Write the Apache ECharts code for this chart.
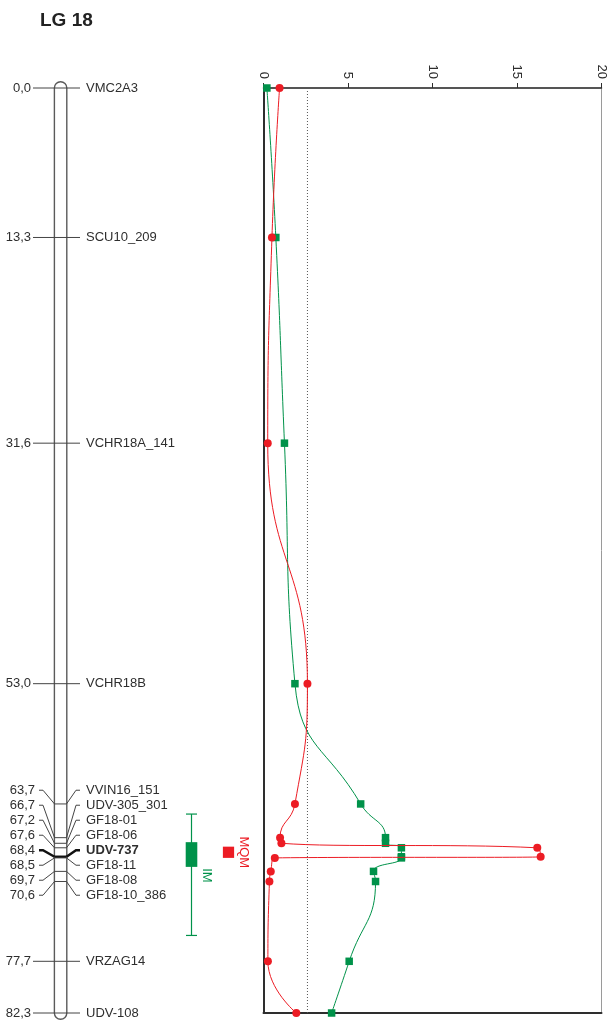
<!DOCTYPE html>
<html><head><meta charset="utf-8">
<script src="https://cdn.jsdelivr.net/npm/echarts@6/dist/echarts.min.js"></script>
<style>html,body{margin:0;padding:0;background:#fff}#chart{width:608px;height:1022px}</style>
</head><body><div id="chart"></div>
<script>
// ---------------- data ----------------
const chartTitle = 'LG 18';
const markerNames = ['VMC2A3','SCU10_209','VCHR18A_141','VCHR18B','VVIN16_151','UDV-305_301','GF18-01','GF18-06','UDV-737','GF18-11','GF18-08','GF18-10_386','VRZAG14','UDV-108'];
const markerPositions = [0.0, 13.3, 31.6, 53.0, 63.7, 66.7, 67.2, 67.6, 68.4, 68.5, 69.7, 70.6, 77.7, 82.3];
const positionLabels = ['0,0','13,3','31,6','53,0','63,7','66,7','67,2','67,6','68,4','68,5','69,7','70,6','77,7','82,3'];
const boldMarkers = ['UDV-737'];
const lodMQM = [0.95, 0.5, 0.25, 2.6, 1.86, 0.98, 1.06, 16.2, 16.4, 0.67, 0.43, 0.35, 0.26, 1.94];
const lodIM  = [0.2, 0.73, 1.24, 1.86, 5.75, 7.22, 7.22, 8.16, 8.16, 8.16, 6.51, 6.63, 5.07, 4.03];
const lodThreshold = [2.6];
const lodTicks = [0, 5, 10, 15, 20];
const qtlNames = ['IM', 'MQM'];
const qtlIMRange = [64.6, 75.4];
const qtlIMCore = [67.1, 69.3];
const qtlMQMRange = [67.5, 68.5];

// ---------------- style ----------------
const RED = '#ec1c24', GREEN = '#00924a', INK = '#2e2e2e', LINE = '#444444';
const FONT = 'Liberation Sans, Arial, sans-serif';
const cmMax = markerPositions[markerPositions.length - 1];
const PLOT_TOP = 88, PLOT_H = 925, MAP_W = 263;

function layoutLabels(ys, gap) {
  const place = g => { const mid = (g.lo + g.hi) / 2; g.top = mid - (g.idx.length - 1) * gap / 2; g.bottom = g.top + (g.idx.length - 1) * gap; };
  let groups = ys.map((y, i) => ({ idx: [i], lo: y, hi: y }));
  groups.forEach(place);
  let merged = true;
  while (merged) {
    merged = false;
    for (let i = 0; i < groups.length - 1; i++) {
      const a = groups[i], b = groups[i + 1];
      if (a.bottom + gap > b.top + 0.01) {
        const g = { idx: a.idx.concat(b.idx), lo: a.lo, hi: b.hi }; place(g);
        groups.splice(i, 2, g); merged = true; break;
      }
    }
  }
  const out = [];
  groups.forEach(g => g.idx.forEach((k, j) => { out[k] = { y: g.top + j * gap, grouped: g.idx.length > 1 }; }));
  return out;
}

let layoutCache = null;
function getLayout(api) {
  if (!layoutCache) {
    const ys = markerPositions.map(p => api.coord([0, p])[1]);
    layoutCache = { ys, labels: layoutLabels(ys, 15) };
  }
  return layoutCache;
}

function txt(text, x, y, align, color, bold, rot) {
  return {
    type: 'text', x, y, rotation: rot || 0,
    style: { text, fill: color, fontSize: 13, fontFamily: FONT, fontWeight: bold ? 'bold' : 'normal', align, verticalAlign: 'middle' }
  };
}
function seg(points, color, w) {
  return { type: 'polyline', shape: { points }, style: { stroke: color, lineWidth: w, fill: null } };
}

function renderMarker(params, api) {
  const i = params.dataIndex;
  const L = getLayout(api);
  const ay = api.coord([0, api.value(1)])[1];
  const lab = L.labels[i];
  const bold = boldMarkers.indexOf(markerNames[i]) >= 0;
  const col = bold ? '#111' : LINE;
  const w = bold ? 2.5 : 1;
  const children = [];
  if (!lab.grouped) {
    children.push(seg([[33, ay], [80, ay]], col, w));
    children.push(txt(positionLabels[i], 31, lab.y, 'right', INK, false));
    children.push(txt(markerNames[i], 86, lab.y, 'left', INK, bold));
  } else {
    children.push(seg([[54.5, ay], [66.5, ay]], col, w));
    children.push(seg([[39, lab.y], [43, lab.y], [54.5, ay]], col, w));
    children.push(seg([[66.5, ay], [76, lab.y], [80, lab.y]], col, w));
    children.push(txt(positionLabels[i], 35, lab.y, 'right', INK, false));
    children.push(txt(markerNames[i], 86, lab.y, 'left', INK, bold));
  }
  return { type: 'group', children };
}

function renderChromosome(params, api) {
  const top = api.coord([0, 0])[1];
  const bot = api.coord([0, api.value(1)])[1];
  const r = 6.2;
  return {
    type: 'rect', z2: -1,
    shape: { x: 54.4, y: top - r, width: 12.4, height: bot - top + 2 * r, r: r },
    style: { fill: '#fff', stroke: '#5a5a5a', lineWidth: 1.4 }
  };
}

function renderQTL(params, api) {
  const kind = params.dataIndex;
  if (kind === 0) {
    const y0 = api.coord([0, qtlIMRange[0]])[1], y1 = api.coord([0, qtlIMRange[1]])[1];
    const b0 = api.coord([0, qtlIMCore[0]])[1], b1 = api.coord([0, qtlIMCore[1]])[1];
    const cx = 191.5;
    return { type: 'group', children: [
      seg([[cx, y0], [cx, y1]], GREEN, 1.2),
      seg([[cx - 5.5, y0], [cx + 5.5, y0]], GREEN, 1.2),
      seg([[cx - 5.5, y1], [cx + 5.5, y1]], GREEN, 1.2),
      { type: 'rect', shape: { x: cx - 5.8, y: b0, width: 11.6, height: b1 - b0 }, style: { fill: GREEN } },
      txt(qtlNames[0], 207, b1 + 8.5, 'center', GREEN, false, -Math.PI / 2)
    ]};
  } else {
    const y0 = api.coord([0, qtlMQMRange[0]])[1], y1 = api.coord([0, qtlMQMRange[1]])[1];
    const h = y1 - y0;
    return { type: 'group', children: [
      { type: 'rect', shape: { x: 228.5 - h / 2, y: y0, width: h, height: h }, style: { fill: RED } },
      txt(qtlNames[1], 244, (y0 + y1) / 2, 'center', RED, false, -Math.PI / 2)
    ]};
  }
}

const chart = echarts.init(document.getElementById('chart'), null, { renderer: 'canvas' });
chart.setOption({
  animation: false,
  backgroundColor: '#fff',
  title: { text: chartTitle, left: 35, top: 6, textStyle: { fontSize: 19, fontWeight: 'bold', color: '#222', fontFamily: FONT } },
  grid: [
    { left: 0, top: PLOT_TOP, width: MAP_W, height: PLOT_H, show: false },
    { left: 263.5, top: PLOT_TOP, width: 340, height: PLOT_H, show: true, borderColor: '#9a9a9a', borderWidth: 1, backgroundColor: 'transparent' }
  ],
  xAxis: [
    { gridIndex: 0, type: 'value', min: 0, max: MAP_W, show: false },
    { gridIndex: 1, type: 'value', min: lodTicks[0], max: lodTicks[lodTicks.length - 1], interval: lodTicks[1] - lodTicks[0], position: 'top',
      axisLine: { show: true, onZero: false, lineStyle: { color: INK, width: 1.5 } },
      axisTick: { show: true, inside: false, length: 5, lineStyle: { color: INK, width: 1 } },
      axisLabel: { rotate: 90, margin: 9, color: INK, fontSize: 13, fontFamily: FONT },
      splitLine: { show: false } },
    { gridIndex: 1, type: 'value', min: lodTicks[0], max: lodTicks[lodTicks.length - 1], position: 'bottom',
      axisLine: { show: true, onZero: false, lineStyle: { color: INK, width: 2 } },
      axisTick: { show: false }, axisLabel: { show: false }, splitLine: { show: false } }
  ],
  yAxis: [
    { gridIndex: 0, type: 'value', min: 0, max: cmMax, inverse: true, show: false },
    { gridIndex: 1, type: 'value', min: 0, max: cmMax, inverse: true,
      axisLine: { show: true, onZero: false, lineStyle: { color: INK, width: 2 } },
      axisTick: { show: false }, axisLabel: { show: false }, splitLine: { show: false } }
  ],
  series: [
    { type: 'custom', xAxisIndex: 0, yAxisIndex: 0, clip: false, z: 1,
      data: [[0, cmMax]], renderItem: renderChromosome },
    { type: 'custom', xAxisIndex: 0, yAxisIndex: 0, clip: false, z: 2,
      data: markerPositions.map((p, i) => [i, p]), renderItem: renderMarker },
    { type: 'custom', xAxisIndex: 0, yAxisIndex: 0, clip: false, z: 2,
      data: [[0, qtlIMRange[0]], [1, qtlMQMRange[0]]], renderItem: renderQTL },
    { type: 'line', xAxisIndex: 1, yAxisIndex: 1, z: 1, symbol: 'none', silent: true,
      data: [[lodThreshold[0], 0], [lodThreshold[0], cmMax]],
      lineStyle: { color: '#555', width: 1, type: [1, 2] } },
    { name: 'IM', type: 'line', xAxisIndex: 1, yAxisIndex: 1, z: 3, smooth: 0.5,
      data: markerPositions.map((p, i) => [lodIM[i], p]),
      symbol: 'rect', symbolSize: 7.5, showAllSymbol: true,
      itemStyle: { color: GREEN }, lineStyle: { color: GREEN, width: 1 } },
    { name: 'MQM', type: 'line', xAxisIndex: 1, yAxisIndex: 1, z: 4, smooth: 0.5,
      data: markerPositions.map((p, i) => [lodMQM[i], p]),
      symbol: 'circle', symbolSize: 8, showAllSymbol: true,
      itemStyle: { color: RED }, lineStyle: { color: RED, width: 1 } }
  ]
});
</script>
</body></html>
